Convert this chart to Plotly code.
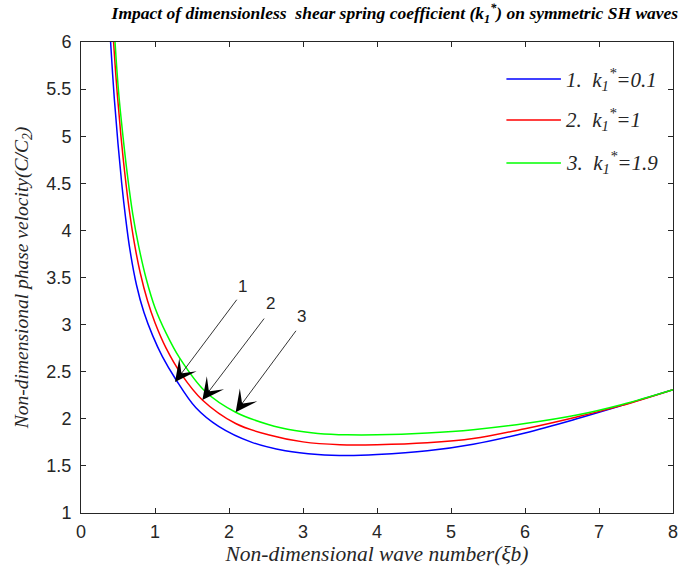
import plotly.graph_objects as go

# Data
x_blue = [0.38, 0.40, 0.45, 0.50, 0.55, 0.60, 0.66, 0.75, 0.85, 0.97, 1.1, 1.28, 1.55, 1.86, 2.31, 2.76, 3.2, 3.6, 4.0, 4.68, 5.3, 6.0, 6.7, 7.3, 8.0]
y_blue = [6.3, 6.0, 5.4, 4.92, 4.5, 4.15, 3.80, 3.42, 3.13, 2.88, 2.66, 2.42, 2.12, 1.92, 1.75, 1.66, 1.62, 1.61, 1.62, 1.66, 1.73, 1.85, 2.0, 2.14, 2.31]

x_red = [0.42, 0.44, 0.49, 0.54, 0.59, 0.65, 0.72, 0.80, 0.90, 1.0, 1.15, 1.35, 1.64, 2.09, 2.53, 3.0, 3.5, 4.0, 4.68, 5.3, 6.0, 6.7, 7.3, 8.0]
y_red = [6.3, 6.0, 5.45, 5.0, 4.62, 4.23, 3.87, 3.55, 3.25, 3.02, 2.75, 2.48, 2.20, 1.95, 1.83, 1.755, 1.725, 1.725, 1.745, 1.79, 1.895, 2.02, 2.14, 2.31]

x_green = [0.44, 0.46, 0.51, 0.57, 0.63, 0.70, 0.78, 0.88, 1.0, 1.15, 1.33, 1.68, 2.09, 2.53, 2.89, 3.2, 3.6, 4.0, 4.68, 5.3, 6.0, 6.7, 7.3, 8.0]
y_green = [6.3, 6.0, 5.45, 4.98, 4.57, 4.17, 3.83, 3.49, 3.18, 2.91, 2.65, 2.29, 2.07, 1.94, 1.875, 1.845, 1.83, 1.83, 1.85, 1.885, 1.95, 2.04, 2.15, 2.31]

series_names = ["1.  k<sub>1</sub><sup>*</sup>=0.1", "2.  k<sub>1</sub><sup>*</sup>=1", "3.  k<sub>1</sub><sup>*</sup>=1.9"]
series_colors = ["#0000ff", "#ff0000", "#00ff00"]

# Arrow annotations (labels, tails, tips)
arrow_labels = ["1", "2", "3"]
arrow_tail_x = [2.12, 2.49, 2.92]
arrow_tail_y = [3.28, 3.08, 2.95]
arrow_tip_x = [1.27, 1.64, 2.09]
arrow_tip_y = [2.39, 2.20, 2.07]
label_x = [2.18, 2.56, 2.98]
label_y = [3.40, 3.22, 3.09]

x_ticks = [0, 1, 2, 3, 4, 5, 6, 7, 8]
y_ticks = [1, 1.5, 2, 2.5, 3, 3.5, 4, 4.5, 5, 5.5, 6]

# legend layout (paper coordinates)
leg_x0, leg_x1, leg_text_x = 0.7186, 0.8107, 0.8157
leg_y = [0.9214, 0.8344, 0.7431]

serif = "Liberation Serif, Times New Roman, serif"
sans = "Liberation Sans, Arial, sans-serif"

fig = go.Figure()
for xs, ys, name, col in zip([x_blue, x_red, x_green], [y_blue, y_red, y_green], series_names, series_colors):
    fig.add_trace(go.Scatter(x=xs, y=ys, mode="lines", name=name, showlegend=False,
                             line=dict(color=col, width=1.5, shape="spline", smoothing=1.0)))

for i in range(3):
    fig.add_annotation(x=arrow_tip_x[i], y=arrow_tip_y[i], ax=arrow_tail_x[i], ay=arrow_tail_y[i],
                       xref="x", yref="y", axref="x", ayref="y", text="", showarrow=True,
                       arrowhead=3, arrowsize=4.5, arrowwidth=0.8, arrowcolor="black")
    fig.add_annotation(x=label_x[i], y=label_y[i], xref="x", yref="y", text=arrow_labels[i],
                       showarrow=False, font=dict(family=sans, size=17, color="#262626"))

# manual legend
for i in range(3):
    fig.add_shape(type="line", xref="paper", yref="paper", x0=leg_x0, x1=leg_x1, y0=leg_y[i], y1=leg_y[i],
                  line=dict(color=series_colors[i], width=1.5))
    fig.add_annotation(x=leg_text_x, y=leg_y[i], xref="paper", yref="paper", text=series_names[i],
                       showarrow=False, xanchor="left", yanchor="middle",
                       font=dict(family=serif, size=21, color="#262626", style="italic"))

axis_common = dict(showline=True, linecolor="#262626", linewidth=1, mirror="ticks",
                   ticks="inside", ticklen=5, tickcolor="#262626", showgrid=False, zeroline=False,
                   ticklabeloverflow="allow",
                   tickfont=dict(family=sans, size=18, color="#262626"))

fig.update_xaxes(range=[0, 8], tickvals=x_ticks, ticktext=[str(v) for v in x_ticks],
                 ticklabelstandoff=2,
                 title=dict(text="Non-dimensional wave number(ξb)", standoff=4,
                            font=dict(family=serif, size=21.5, color="#262626", style="italic")),
                 **axis_common)
fig.update_yaxes(range=[1, 6], tickvals=y_ticks, ticktext=[f"{v:g}" for v in y_ticks],
                 ticklabelstandoff=5,
                 title=dict(text="Non-dimensional phase velocity(C/C<sub>2</sub>)", standoff=12,
                            font=dict(family=serif, size=19.5, color="#262626", style="italic")),
                 **axis_common)

fig.update_layout(
    width=682, height=568,
    margin=dict(l=81, r=4, t=42, b=55),
    paper_bgcolor="white", plot_bgcolor="white",
    title=dict(text="Impact of dimensionless  shear spring coefficient (k<sub>1</sub><sup>*</sup>) on symmetric SH waves",
               x=0.579, xanchor="center", y=0.977, yanchor="middle",
               font=dict(family=serif, size=17.5, color="black", weight="bold", style="italic")),
    showlegend=False,
)

fig.write_html("out.html")
